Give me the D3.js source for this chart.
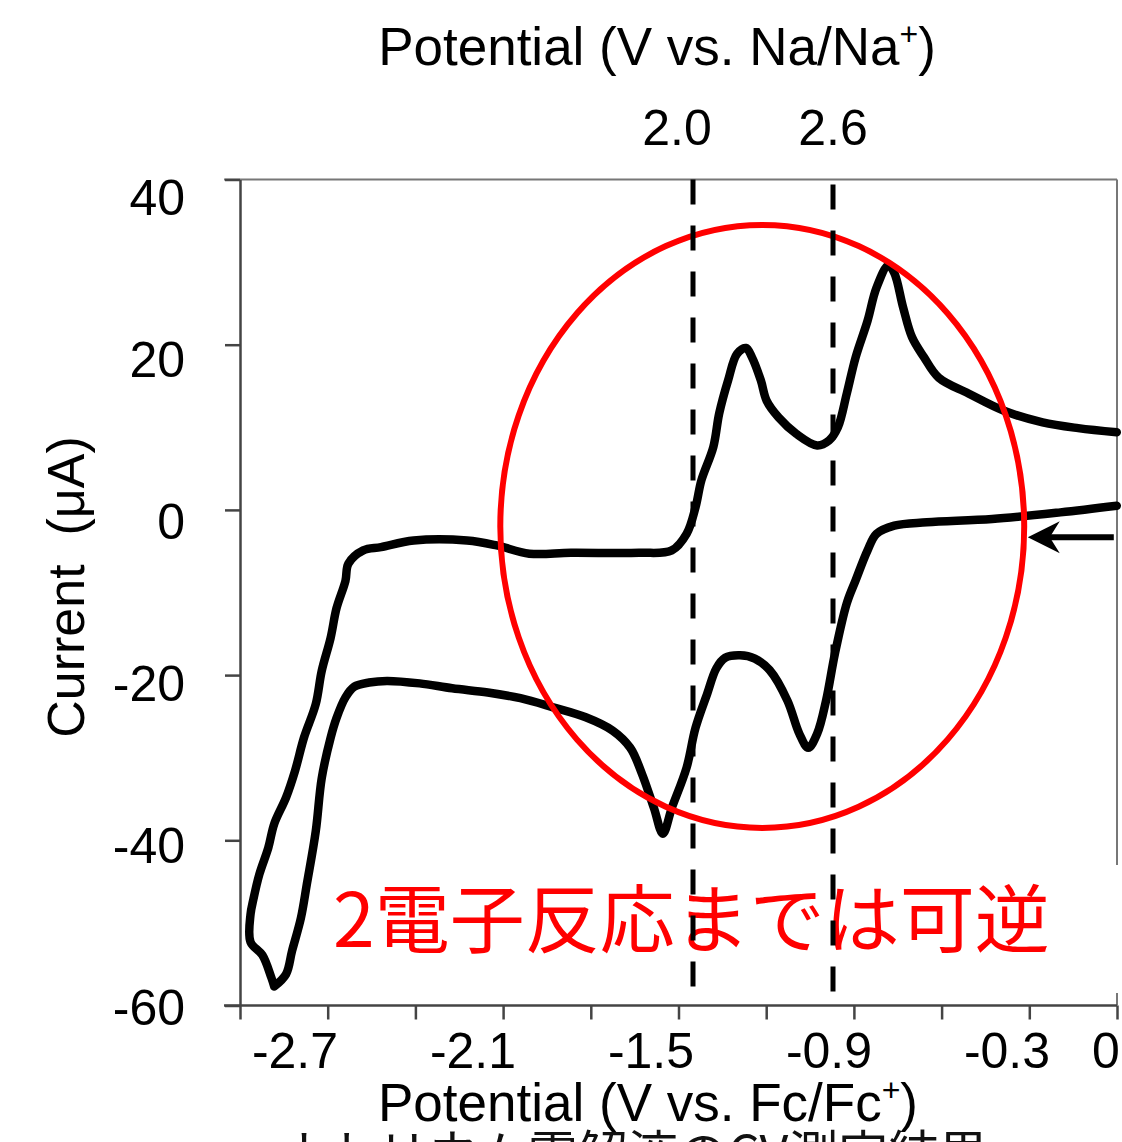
<!DOCTYPE html>
<html>
<head>
<meta charset="utf-8">
<script src="https://cdn.jsdelivr.net/npm/d3@7"></script>
<style>
  html, body { margin: 0; padding: 0; background: #fff; }
  svg { display: block; }
  text { font-family: "Liberation Sans", Arial, sans-serif; }
</style>
</head>
<body>
<div id="chart"></div>
<script>
// cyclic voltammogram (V vs. Fc/Fc+, µA)
// forward scan: 0 V -> negative
const forwardPotential = [0.07, -0.12, -0.35, -0.57, -0.68, -0.74, -0.77, -0.81, -0.84, -0.88,
  -0.91, -0.94, -0.97, -1.00, -1.04, -1.10, -1.15, -1.20, -1.25, -1.28,
  -1.31, -1.35, -1.38, -1.43, -1.46, -1.49, -1.53, -1.57, -1.63, -1.72,
  -1.83, -1.94, -2.05, -2.17, -2.28, -2.39, -2.45, -2.50, -2.53, -2.56,
  -2.58, -2.61, -2.63, -2.66, -2.68, -2.71, -2.73, -2.77];
const forwardCurrent = [0.5, -0.3, -1.1, -1.5, -1.9, -2.9, -4.9, -8.5, -11.3, -17.4,
  -23.1, -27.1, -28.8, -27.1, -23.1, -19.4, -18.0, -17.6, -17.9, -19.2,
  -22.2, -26.4, -31.2, -36.1, -39.2, -36.1, -32.0, -28.8, -26.7, -25.1,
  -23.9, -22.8, -22.1, -21.6, -21.0, -20.7, -20.9, -21.4, -22.7, -25.2,
  -27.6, -32.5, -38.9, -45.3, -49.4, -53.4, -56.2, -57.7];
// reverse scan: back towards 0 V
const reversePotential = [-2.77, -2.78, -2.81, -2.85, -2.85, -2.84, -2.82, -2.79, -2.77, -2.73,
  -2.70, -2.67, -2.63, -2.61, -2.58, -2.56, -2.53, -2.52, -2.47, -2.41,
  -2.30, -2.12, -2.02, -1.91, -1.77, -1.54, -1.43, -1.38, -1.35, -1.33,
  -1.29, -1.27, -1.24, -1.21, -1.18, -1.16, -1.13, -1.11, -1.07, -1.01,
  -0.94, -0.90, -0.87, -0.84, -0.81, -0.77, -0.74, -0.70, -0.68, -0.65,
  -0.62, -0.58, -0.53, -0.43, -0.31, -0.18, -0.06, 0.07];
const reverseCurrent = [-57.7, -56.6, -53.9, -52.3, -49.0, -47.1, -44.1, -40.9, -38.0, -34.8,
  -31.6, -27.6, -23.5, -19.5, -15.5, -11.9, -8.6, -6.5, -4.9, -4.5,
  -3.7, -3.7, -4.3, -5.3, -5.2, -5.2, -4.9, -2.9, 0.3, 3.6,
  7.6, 11.7, 15.7, 18.9, 19.6, 18.5, 15.7, 13.2, 11.2, 9.2,
  7.8, 8.4, 10.0, 14.1, 18.5, 22.9, 26.9, 29.6, 28.7, 24.5,
  20.9, 18.5, 16.0, 14.1, 12.0, 10.6, 9.9, 9.4];

const currentTicks = [40, 20, 0, -20, -40, -60];
const fcTickLabels = [-2.7, -2.1, -1.5, -0.9, -0.3, 0];
const naMarkers = [2.0, 2.6];
const note = "2電子反応までは可逆";

const width = 1122, height = 1142;

// scales
const x = d3.scaleLinear().domain([-3, 0]).range([206, 1096]);          // V vs Fc/Fc+
const y = d3.scaleLinear().domain([-60, 40]).range([1005.5, 179.5]);     // µA
const yLabel = d3.scaleLinear().domain([-60, 40]).range([1007, 197]);    // tick text sits a little off the ticks
const tickPos = d3.scaleLinear().domain([0, 10]).range([240, 1117]);     // tick marks of the frame
const xNa = d3.scaleLinear().domain([2.0, 2.6]).range([693, 833]);       // V vs Na/Na+
const xNaLabel = d3.scaleLinear().domain([2.0, 2.6]).range([677, 833]);

const svg = d3.select("#chart").append("svg")
  .attr("width", width)
  .attr("height", height);

svg.append("rect").attr("width", width).attr("height", height).attr("fill", "#fff");

// cut-off title and caption of the slide
svg.append("text")
  .attr("x", 570).attr("y", -5)
  .attr("text-anchor", "middle")
  .style("font-family", "'Noto Sans CJK JP'")
  .style("font-size", "50px")
  .attr("fill", "#111")
  .text("【ナトリウム電解液の電位窓】");

svg.append("text")
  .attr("x", 633).attr("y", 1172)
  .attr("text-anchor", "middle")
  .style("font-family", "'Noto Sans CJK JP'")
  .style("font-size", "50px")
  .attr("fill", "#111")
  .text("ナトリウム電解液のCV測定結果");

// frame (top and right)
svg.append("line")
  .attr("x1", 224).attr("x2", 1117).attr("y1", y(40)).attr("y2", y(40))
  .attr("stroke", "#777").attr("stroke-width", 2);
svg.append("line")
  .attr("x1", 1117).attr("x2", 1117).attr("y1", y(40)).attr("y2", y(-60))
  .attr("stroke", "#777").attr("stroke-width", 2);

// y axis
const yAxis = svg.append("g")
  .attr("transform", "translate(240,0)")
  .call(d3.axisLeft(y).tickValues(currentTicks).tickSize(15).tickSizeOuter(0).tickFormat(""));
yAxis.selectAll("path, line").attr("stroke", "#444").attr("stroke-width", 2.5);

svg.selectAll(".ylabel")
  .data(currentTicks)
  .enter().append("text")
  .attr("class", "ylabel")
  .attr("x", 185)
  .attr("y", d => yLabel(d))
  .attr("dy", "0.36em")
  .attr("text-anchor", "end")
  .attr("fill", "#000")
  .style("font-size", "50px")
  .text(d => String(d));

// x axis (bottom)
const xAxis = svg.append("g")
  .attr("transform", `translate(0,${y(-60)})`)
  .call(d3.axisBottom(tickPos).tickValues(d3.range(0, 11)).tickSize(14).tickSizeOuter(0).tickFormat(""));
xAxis.select(".domain").attr("d", "M224,0H1117");
xAxis.selectAll("path, line").attr("stroke", "#444").attr("stroke-width", 2.5);

svg.selectAll(".xlabel")
  .data(fcTickLabels)
  .enter().append("text")
  .attr("class", "xlabel")
  .attr("x", d => x(d))
  .attr("dx", d => d === 0 ? 10 : 0)
  .attr("y", 1068)
  .attr("text-anchor", "middle")
  .style("font-size", "50px")
  .text(d => d === 0 ? "0" : d.toFixed(1));

// axis titles
const fcTitle = svg.append("text")
  .attr("x", 648).attr("y", 1121)
  .attr("text-anchor", "middle")
  .style("font-size", "53px");
fcTitle.append("tspan").text("Potential (V vs. Fc/Fc");
fcTitle.append("tspan").attr("dy", -20).style("font-size", "32px").text("+");
fcTitle.append("tspan").attr("dy", 20).text(")");

const naTitle = svg.append("text")
  .attr("x", 657).attr("y", 65)
  .attr("text-anchor", "middle")
  .style("font-size", "53px");
naTitle.append("tspan").text("Potential (V vs. Na/Na");
naTitle.append("tspan").attr("dy", -20).style("font-size", "32px").text("+");
naTitle.append("tspan").attr("dy", 20).text(")");

svg.selectAll(".nalabel")
  .data(naMarkers)
  .enter().append("text")
  .attr("class", "nalabel")
  .attr("x", d => xNaLabel(d))
  .attr("y", 145)
  .attr("text-anchor", "middle")
  .style("font-size", "50px")
  .text(d => d.toFixed(1));

svg.append("text")
  .attr("transform", "translate(84,587) rotate(-90)")
  .attr("text-anchor", "middle")
  .style("font-size", "52px")
  .style("white-space", "pre")
  .text("Current  (μA)");

// CV trace
const cv = forwardPotential.map((v, i) => [v, forwardCurrent[i]])
  .concat(reversePotential.map((v, i) => [v, reverseCurrent[i]]));

const line = d3.line()
  .x(d => x(d[0]))
  .y(d => y(d[1]))
  .curve(d3.curveCatmullRom.alpha(0.5));

svg.append("path")
  .datum(cv)
  .attr("d", line)
  .attr("fill", "none")
  .attr("stroke", "#000")
  .attr("stroke-width", 8.5)
  .attr("stroke-linejoin", "round")
  .attr("stroke-linecap", "round");

// red ellipse around the reversible couples
const ellipseCenter = [-1.125, -2];
svg.append("ellipse")
  .attr("cx", x(ellipseCenter[0]))
  .attr("cy", y(ellipseCenter[1]))
  .attr("rx", x(ellipseCenter[0] + 0.883) - x(ellipseCenter[0]))
  .attr("ry", y(ellipseCenter[1] - 36.5) - y(ellipseCenter[1]))
  .attr("fill", "none")
  .attr("stroke", "#ff0000")
  .attr("stroke-width", 6);

// white box behind the note
svg.append("rect")
  .attr("x", 320).attr("y", 865)
  .attr("width", 802).attr("height", 128)
  .attr("fill", "#fff");

svg.append("text")
  .attr("x", 333).attr("y", 947)
  .style("font-family", "'Noto Sans CJK JP'")
  .style("font-size", "75px")
  .attr("fill", "#ff0000")
  .text(note);

// dashed markers at 2.0 and 2.6 V vs Na/Na+
svg.selectAll(".marker")
  .data(naMarkers)
  .enter().append("line")
  .attr("class", "marker")
  .attr("x1", d => xNa(d)).attr("x2", d => xNa(d))
  .attr("y1", (d, i) => i === 0 ? y(40) : y(39.4))
  .attr("y2", (d, i) => i === 0 ? y(-59.4) : y(-60))
  .attr("stroke", "#000")
  .attr("stroke-width", 5)
  .attr("stroke-dasharray", "25 21");

// scan direction arrow
const arrowStart = [0.06, -3.3], arrowEnd = [-0.23, -3.3];
const ax0 = x(arrowStart[0]), ax1 = x(arrowEnd[0]), ay = y(arrowStart[1]);
svg.append("line")
  .attr("x1", ax0).attr("x2", ax1 + 20).attr("y1", ay).attr("y2", ay)
  .attr("stroke", "#000").attr("stroke-width", 6);
svg.append("path")
  .attr("d", `M${ax1},${ay} L${ax1 + 32},${ay - 16} L${ax1 + 22},${ay} L${ax1 + 32},${ay + 16} Z`)
  .attr("fill", "#000");
</script>
</body>
</html>
